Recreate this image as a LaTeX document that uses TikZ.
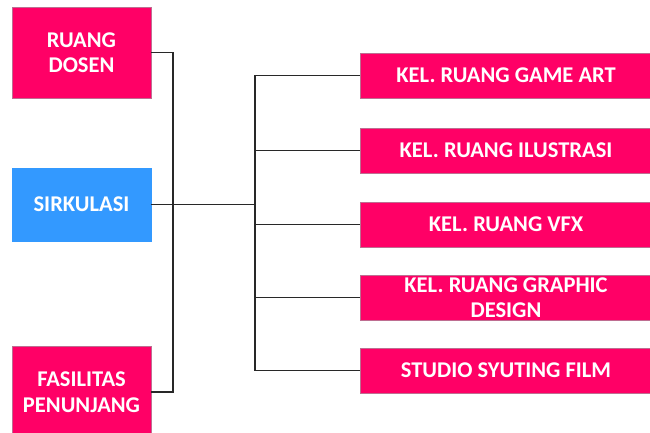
\documentclass[tikz,border=0pt]{standalone}
\usepackage{fontspec}
\setmainfont{Carlito}
\definecolor{pinkc}{RGB}{255,0,102}
\definecolor{bluec}{RGB}{51,153,255}
\definecolor{boxedge}{RGB}{190,110,145}
\definecolor{linec}{RGB}{40,40,40}
\begin{document}
\begin{tikzpicture}[x=1pt,y=-1pt,
  box/.style={fill=pinkc, draw=boxedge, line width=0.5pt, text=white,
    font=\bfseries\fontsize{22.5}{25.5}\selectfont, align=center,
    inner sep=0pt, outer sep=0pt, anchor=north west},
  lbox/.style={box, minimum width=139pt},
  rbox/.style={box, minimum width=292pt, minimum height=45pt},
  conn/.style={draw=linec, line width=1.3pt}]
\useasboundingbox (0,0) rectangle (650,432);
\fill[white] (0,0) rectangle (650,432);
\node[lbox, minimum height=91pt] (dosen) at (12,7) {RUANG\\DOSEN};
\node[lbox, minimum height=73pt, fill=bluec, draw=bluec] (sirk) at (12,168) {SIRKULASI};
\node[lbox, minimum height=92pt] (fas) at (12,346) {FASILITAS\\PENUNJANG};
\node[rbox] (game) at (360,53) {KEL. RUANG GAME ART};
\node[rbox] (ilus) at (360,128) {KEL. RUANG ILUSTRASI};
\node[rbox] (vfx) at (360,202) {KEL. RUANG VFX};
\node[rbox] (gd) at (360,275) {KEL. RUANG GRAPHIC\\DESIGN};
\node[rbox] (studio) at (360,348) {STUDIO SYUTING FILM};
\coordinate (lbus) at (173,204.5);
\coordinate (bus) at (255,204.5);
\draw[conn] (dosen.east) -| (lbus) |- (fas.east);
\draw[conn] (sirk.east) -- (bus);
\draw[conn] (game.west) -| (bus) |- (studio.west);
\draw[conn] (bus) |- (ilus.west);
\draw[conn] (bus) |- (vfx.west);
\draw[conn] (bus) |- (gd.west);
\end{tikzpicture}
\end{document}
